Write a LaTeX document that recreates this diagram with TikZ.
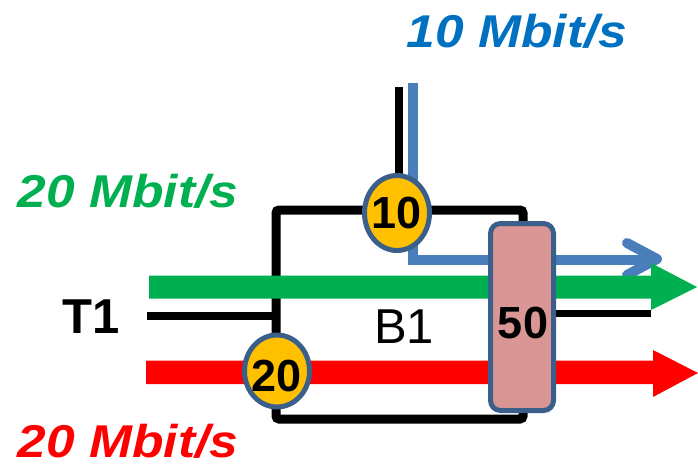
\documentclass[tikz,border=0pt]{standalone}
\usepackage{fontspec}
\setmainfont{Liberation Sans}
\definecolor{cgreen}{HTML}{00B050}
\definecolor{cred}{HTML}{FF0000}
\definecolor{cblue}{HTML}{0070C0}
\definecolor{lblue}{HTML}{4A7EBB}
\definecolor{corange}{HTML}{FFC000}
\definecolor{cborder}{HTML}{3A5F8B}
\definecolor{cpink}{HTML}{D99694}
\tikzset{
  rate/.style={font=\fontsize{46}{50}\selectfont\bfseries\itshape, inner sep=0pt, anchor=base, xscale=1.12, transform shape},
  lbl/.style={font=\fontsize{49}{52}\selectfont, inner sep=0pt, anchor=base},
  meter/.style={ellipse, draw=cborder, line width=5pt, fill=corange, inner sep=0pt},
  num/.style={font=\fontsize{45}{48}\selectfont\bfseries, inner sep=0pt, anchor=base},
  boxline/.style={line width=9pt, rounded corners=3pt},
}
\usetikzlibrary{shapes.geometric}
\begin{document}
\begin{tikzpicture}[x=1pt,y=-1pt]
\useasboundingbox (0,0) rectangle (698,465);
% box
\draw[boxline] (276,210) rectangle (523,419);
\coordinate (boxtop) at (399,210);
\coordinate (topend) at (399,87);
\draw[line width=8pt] (topend) -- (boxtop);
\coordinate (t1a) at (147,316);
\coordinate (t1b) at (276,316);
\draw[line width=8pt] (t1a) -- (t1b);
\coordinate (rb1) at (553,313);
\coordinate (rb2) at (651,313);
\draw[line width=7pt] (rb1) -- (rb2);
% blue path
\coordinate (b0) at (413,83);
\coordinate (b1) at (413,260);
\coordinate (b2) at (655,260);
\draw[lblue, line width=10pt, miter limit=10] (b0) -- (b1) -- (b2);
\coordinate (c1) at (627,243);
\coordinate (c2) at (657,259);
\coordinate (c3) at (627,275);
\draw[lblue, line width=10pt, line cap=round, line join=round] (c1) -- (c2) -- (c3);
% green arrow
\fill[cgreen] (149,275.5) -- (651,275.5) -- (651,263) -- (697,287) -- (651,310) -- (651,298.5) -- (149,298.5) -- cycle;
% red arrow
\fill[cred] (146,360.5) -- (653,360.5) -- (653,350) -- (698,373) -- (653,397) -- (653,384) -- (146,384) -- cycle;
% meters
\node[meter, minimum width=65pt, minimum height=75pt] (m10) at (397,213) {};
\node[num] at (397,228) {10};
\node[meter, minimum width=65pt, minimum height=72pt] (m20) at (277,371) {};
\node[num] at (277,391) {20};
% pink box
\node[draw=cborder, line width=5pt, fill=cpink, rounded corners=10pt, minimum width=63pt, minimum height=187pt, inner sep=0pt] (p50) at (522,317) {};
\node[num] at (523,338) {50};
% labels
\node[lbl, font=\fontsize{49}{52}\selectfont\bfseries] (t1) at (91,333) {T1};
\node[lbl] (bb1) at (404,343) {B1};
\node[rate, text=cgreen] (g) at (128,207) {20 Mbit/s};
\node[rate, text=cred] (r) at (128,457) {20 Mbit/s};
\node[rate, text=cblue] (bl) at (517,48) {10 Mbit/s};
\end{tikzpicture}
\end{document}
